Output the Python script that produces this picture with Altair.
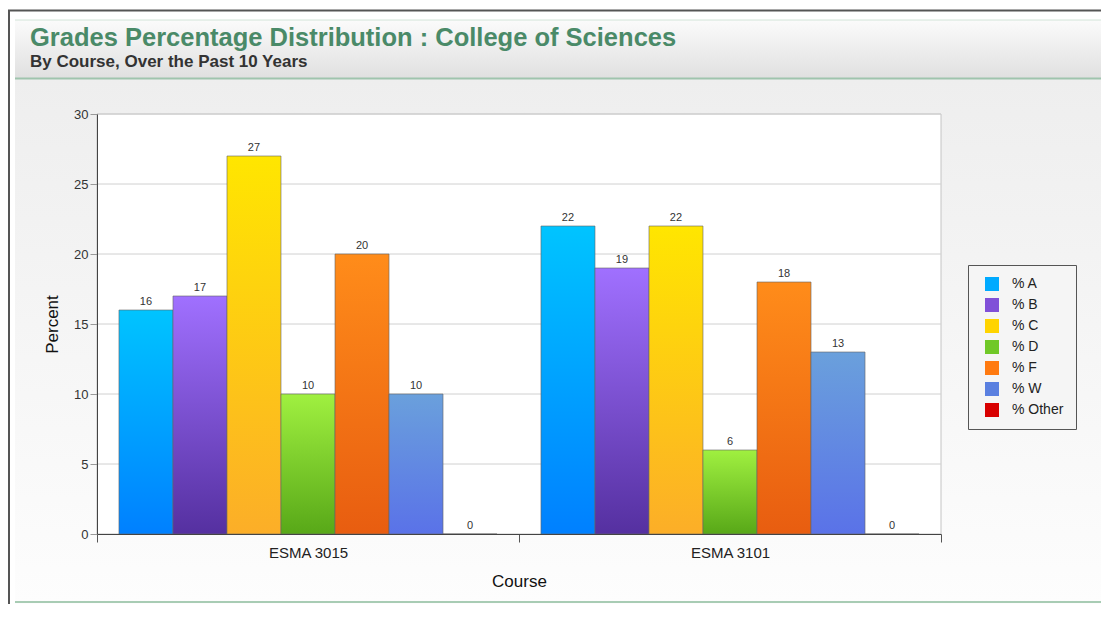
import altair as alt
import pandas as pd

# ---- data ----
courses = ["ESMA 3015", "ESMA 3101"]
grades = ["% A", "% B", "% C", "% D", "% F", "% W", "% Other"]
esma_3015 = [16, 17, 27, 10, 20, 10, 0]
esma_3101 = [22, 19, 22, 6, 18, 13, 0]
y_ticks = [0, 5, 10, 15, 20, 25, 30]
grid_lines = [5, 10, 15, 20, 25, 30]

title_text = "Grades Percentage Distribution : College of Sciences"
subtitle_text = "By Course, Over the Past 10 Years"

# ---- styles ----
solid_colors = ["#00aaff", "#8050d8", "#ffd400", "#70c828", "#ff7a10", "#5a80e0", "#d80000"]
grad_top = ["#00c4ff", "#a070ff", "#ffe600", "#a0f040", "#ff8c1a", "#6aa0dc", "#ee0000"]
grad_bot = ["#0080ff", "#5530a0", "#fcae28", "#58a818", "#e85d10", "#5a72e8", "#b00000"]

W, H = 844, 420
FONT = "Liberation Sans"

rows = []
for c, vals in zip(courses, [esma_3015, esma_3101]):
    for g, v in zip(grades, vals):
        rows.append({"course": c, "grade": g, "value": v})
df = pd.DataFrame(rows)
grid_df = pd.DataFrame({"value": grid_lines})

one = alt.Data(values=[{}])


def vgrad(top, bottom):
    return alt.Gradient(
        gradient="linear",
        stops=[alt.GradientStop(color=top, offset=0), alt.GradientStop(color=bottom, offset=1)],
        x1=0, x2=0, y1=0, y2=1,
    )


yscale = alt.Scale(domain=[0, 30], nice=False, zero=True)
xscale = alt.Scale(domain=courses, paddingInner=0, paddingOuter=0)
xoscale = alt.Scale(domain=grades, paddingInner=0, paddingOuter=0.407)

x_enc = alt.X(
    "course:N", scale=xscale, title="Course",
    axis=alt.Axis(labelAngle=0, tickBand="extent", tickSize=8, tickColor="#555",
                  domainColor="#444", labelFontSize=15, labelColor="#222",
                  labelPadding=3, titleFontSize=17, titleFontWeight="normal",
                  titleColor="#111", titlePadding=13, grid=False, zindex=1),
)
y_enc = alt.Y(
    "value:Q", scale=yscale, title="Percent",
    axis=alt.Axis(values=y_ticks, tickSize=7, tickColor="#999", domainColor="#444",
                  labelFontSize=13, labelColor="#333", labelPadding=2,
                  titleFontSize=17, titleFontWeight="normal", titleColor="#111",
                  titlePadding=12, grid=False, zindex=1),
)
xo_enc = alt.XOffset("grade:N", scale=xoscale)

# ---- decorative frame ----
frame_top = alt.Chart(one).mark_rule(color="#555", strokeWidth=2).encode(
    x=alt.value(-89), x2=alt.value(1004), y=alt.value(-103.5))
frame_left = alt.Chart(one).mark_rule(color="#555", strokeWidth=2).encode(
    x=alt.value(-88), y=alt.value(-104), y2=alt.value(490))
header = alt.Chart(one).mark_rect(fill=vgrad("#fbfbfb", "#e0e0e0")).encode(
    x=alt.value(-82), x2=alt.value(1004), y=alt.value(-94), y2=alt.value(-36))
header_top = alt.Chart(one).mark_rule(color="#d2e4d8", strokeWidth=1).encode(
    x=alt.value(-82), x2=alt.value(1004), y=alt.value(-94))
body = alt.Chart(one).mark_rect(fill=vgrad("#eeeeee", "#fdfdfd")).encode(
    x=alt.value(-82), x2=alt.value(1004), y=alt.value(-35), y2=alt.value(490))
header_line = alt.Chart(one).mark_rule(color="#9fc4ad", strokeWidth=2).encode(
    x=alt.value(-82), x2=alt.value(1004), y=alt.value(-35.5))
bottom_line = alt.Chart(one).mark_rule(color="#a8ccb4", strokeWidth=2).encode(
    x=alt.value(-82), x2=alt.value(1004), y=alt.value(488))

title = alt.Chart(one).mark_text(
    text=title_text, align="left", baseline="alphabetic", font=FONT,
    fontSize=25.5, fontWeight="bold", color="#4a8a68").encode(
    x=alt.value(-67), y=alt.value(-68))
subtitle = alt.Chart(one).mark_text(
    text=subtitle_text, align="left", baseline="alphabetic", font=FONT,
    fontSize=17, fontWeight="bold", color="#333").encode(
    x=alt.value(-67), y=alt.value(-47))

plot_bg = alt.Chart(one).mark_rect(fill="white", stroke="#c4c4c4", strokeWidth=1).encode(
    x=alt.value(0), x2=alt.value(W), y=alt.value(0), y2=alt.value(H))

grid = alt.Chart(grid_df).mark_rule(color="#d0d0d0", strokeWidth=1).encode(y=y_enc)

# ---- bars ----
legend_bars = alt.Chart(df).mark_bar().encode(
    x=x_enc, xOffset=xo_enc, y=y_enc,
    color=alt.Color(
        "grade:N", scale=alt.Scale(domain=grades, range=solid_colors),
        legend=alt.Legend(title=None, orient="none", legendX=871, legendY=151,
                          fillColor="#f5f5f5", strokeColor="#555", padding=12,
                          symbolType="square", symbolSize=196, symbolStrokeWidth=0,
                          symbolOpacity=1, symbolOffset=5, labelFontSize=14,
                          labelColor="#222", labelOffset=13, rowPadding=7),
    ),
)

grad_layers = []
for g, t, b in zip(grades, grad_top, grad_bot):
    grad_layers.append(
        alt.Chart(df).transform_filter(alt.datum.grade == g).mark_bar(
            fill=vgrad(t, b), stroke="#666", strokeOpacity=0.6, strokeWidth=1
        ).encode(x=x_enc, xOffset=xo_enc, y=y_enc)
    )

labels = alt.Chart(df).mark_text(
    baseline="bottom", dy=-3, fontSize=11, color="#333", font=FONT
).encode(x=x_enc, xOffset=xo_enc, y=y_enc, text=alt.Text("value:Q"))

chart = alt.layer(
    frame_top, frame_left, header, header_top, body, header_line, bottom_line,
    title, subtitle, plot_bg, grid, legend_bars, *grad_layers, labels,
).properties(
    width=W, height=H,
    autosize=alt.AutoSizeParams(type="none"),
    padding={"left": 89, "top": 106, "right": 160, "bottom": 70},
    background="white",
).configure(font=FONT).configure_view(stroke=None)

chart.save("out.html", embed_options={"renderer": "svg", "actions": False})
